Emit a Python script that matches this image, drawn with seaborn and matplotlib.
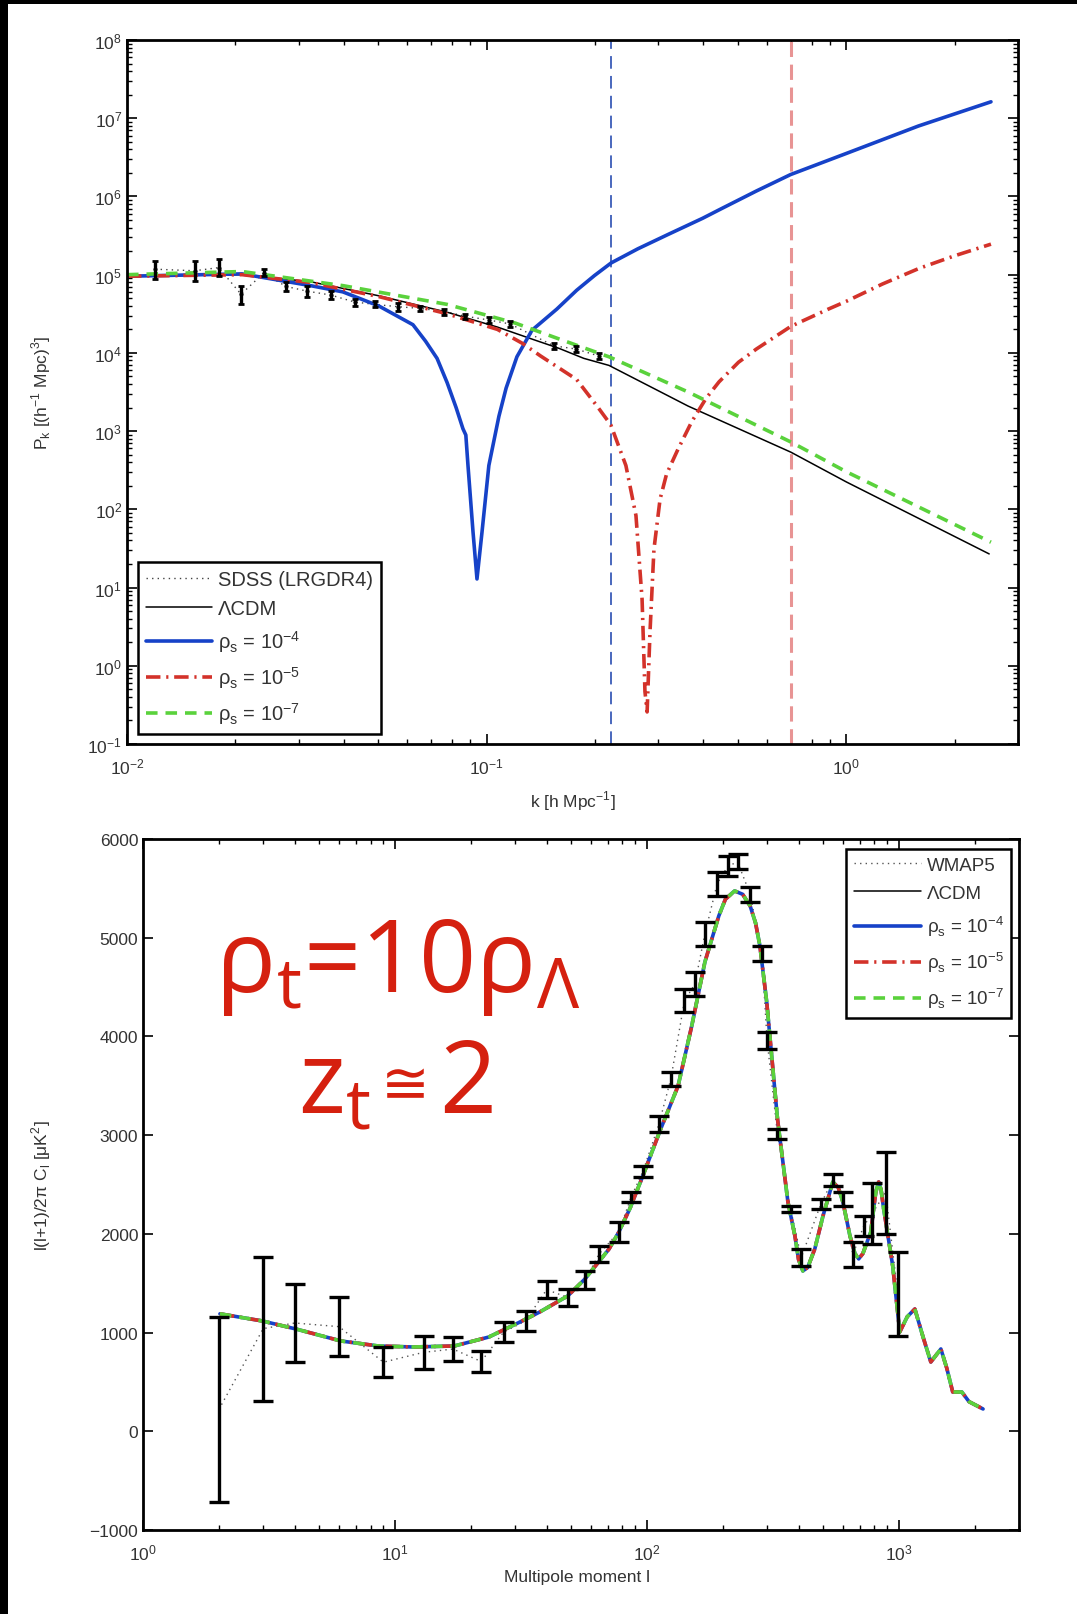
import numpy as np
import matplotlib
matplotlib.use("Agg")
import matplotlib.pyplot as plt
import seaborn as sns
from matplotlib.patches import Rectangle
from matplotlib.ticker import LogLocator, NullFormatter, FixedLocator

logk_sdss = [-1.922, -1.812, -1.745, -1.683, -1.620, -1.558, -1.500, -1.434, -1.367, -1.310,
             -1.247, -1.186, -1.119, -1.060, -0.994, -0.935, -0.813, -0.752, -0.688]
logp_sdss = [5.07, 5.05, 5.09, 4.75, 5.02, 4.85, 4.79, 4.74, 4.65, 4.62,
             4.59, 4.57, 4.53, 4.47, 4.42, 4.37, 4.09, 4.05, 3.96]
logp_sdss_lo = [4.95, 4.92, 4.98, 4.63, 4.98, 4.79, 4.72, 4.69, 4.60, 4.59,
                4.54, 4.54, 4.49, 4.43, 4.38, 4.33, 4.05, 4.01, 3.92]
logp_sdss_hi = [5.18, 5.18, 5.20, 4.86, 5.07, 4.91, 4.86, 4.79, 4.69, 4.66,
                4.64, 4.60, 4.56, 4.50, 4.46, 4.41, 4.13, 4.09, 4.00]

logk_lcdm = [-2.0, -1.68, -1.49, -1.30, -1.11, -0.97, -0.87, -0.80, -0.73, -0.66, -0.44, -0.154, 0.0, 0.397]
logp_lcdm = [4.98, 5.00, 4.91, 4.73, 4.52, 4.33, 4.17, 4.06, 3.93, 3.84, 3.32, 2.73, 2.35, 1.43]

logk_rho4 = [-2.0, -1.68, -1.49, -1.40, -1.30, -1.205, -1.17, -1.138, -1.11, -1.085, -1.066,
             -1.058, -1.052, -1.038, -1.027, -1.013, -0.994, -0.966, -0.946, -0.916, -0.874,
             -0.805, -0.75, -0.70, -0.654, -0.58, -0.493, -0.40, -0.349, -0.25, -0.155, 0.0,
             0.2, 0.402]
logp_rho4 = [4.98, 5.01, 4.86, 4.78, 4.60, 4.36, 4.15, 3.93, 3.62, 3.30, 3.03,
             2.95, 2.56, 1.71, 1.11, 1.71, 2.56, 3.19, 3.55, 3.95, 4.29,
             4.56, 4.80, 4.99, 5.15, 5.33, 5.52, 5.72, 5.84, 6.07, 6.28, 6.55,
             6.90, 7.21]

logk_rho5 = [-2.0, -1.68, -1.49, -1.30, -1.11, -0.97, -0.90, -0.85, -0.75, -0.69, -0.655,
             -0.613, -0.585, -0.568, -0.560, -0.554, -0.546, -0.535, -0.518, -0.50, -0.468,
             -0.43, -0.39, -0.354, -0.30, -0.25, -0.154, -0.05, 0.0, 0.10, 0.202, 0.30, 0.402]
logp_rho5 = [4.98, 5.00, 4.90, 4.72, 4.50, 4.30, 4.12, 3.96, 3.66, 3.30, 3.08,
             2.56, 1.92, 0.85, -0.33, -0.59, 0.43, 1.49, 2.13, 2.45, 2.77,
             3.12, 3.42, 3.63, 3.88, 4.05, 4.34, 4.56, 4.66, 4.88, 5.08, 5.24, 5.39]

logk_rho7 = [-2.0, -1.68, -1.40, -1.11, -0.92, -0.80, -0.66, -0.44, -0.154, 0.0, 0.402]
logp_rho7 = [5.00, 5.04, 4.86, 4.62, 4.38, 4.18, 3.95, 3.50, 2.86, 2.48, 1.58]

k_cuts = [0.222, 0.70]

# ---------------- bottom panel : CMB spectrum ----------------
l_model = [2.02, 2.97, 4.05, 6.1, 8.6, 11.8, 17.2, 23.6, 32, 37.6, 48.5, 56.8, 70.8, 77.4, 85.5,
           96.4, 113.5, 133, 150.7, 170, 193, 205, 223, 240, 257, 270, 281, 299, 330, 363, 387,
           400, 416, 435, 464, 500, 547, 575, 600, 640, 670, 693, 720, 774, 810, 832, 850, 871,
           946, 1009, 1080, 1158, 1250, 1340, 1469, 1550, 1637, 1779, 1900, 2160]
cl_model = [1190, 1118, 1036, 915, 864, 854, 864, 955, 1118, 1209, 1371, 1543, 1847, 2019, 2252,
            2587, 3063, 3498, 4106, 4755, 5221, 5390, 5474, 5440, 5322, 5150, 4917, 4350, 3164, 2323, 1979,
            1740, 1624, 1660, 1847, 2180, 2526, 2470, 2323, 1979, 1800, 1746, 1800, 2019, 2420, 2526, 2450, 2252,
            1675, 1006, 1160, 1239, 950, 702, 834, 640, 398, 398, 300, 226]

l_wmap = [2, 3, 4, 6, 9, 13, 17, 22, 27, 33, 40, 48.5, 57, 64.6, 77.4, 86.5, 96.4, 111.6, 124.5,
          141, 155, 170, 190, 209, 229, 257, 286, 300, 330, 372, 410, 490, 548, 600, 657, 726,
          781, 887, 990]
cl_wmap = [220, 1040, 1097, 1060, 700, 800, 833, 707, 1005, 1118, 1435, 1356, 1533, 1796, 2020,
           2370, 2630, 3110, 3570, 4360, 4530, 5040, 5545, 5720, 5770, 5440, 4840, 3960, 3010,
           2250, 1760, 2300, 2550, 2350, 1790, 2080, 2200, 2420, 1400]
cl_wmap_lo = [-716, 307, 702, 763, 550, 631, 712, 600, 905, 1016, 1350, 1270, 1442, 1715, 1918,
              2323, 2577, 3032, 3498, 4248, 4410, 4917, 5424, 5626, 5697, 5363, 4765, 3873, 2962,
              2222, 1675, 2252, 2485, 2283, 1665, 1979, 1900, 2000, 966]
cl_wmap_hi = [1158, 1766, 1492, 1360, 854, 966, 955, 814, 1107, 1219, 1523, 1442, 1624, 1877, 2120,
              2425, 2688, 3195, 3640, 4481, 4653, 5160, 5667, 5829, 5849, 5515, 4917, 4045, 3063,
              2283, 1847, 2354, 2607, 2425, 1918, 2182, 2520, 2830, 1816]

sns.set_style("ticks")
plt.rcParams["font.family"] = ["Liberation Sans", "DejaVu Sans"]

BLUE = "#1642c8"
RED = "#d3322a"
GREEN = "#5ad23c"
TXT = "#333333"

fig = plt.figure(figsize=(10.77, 16.15), dpi=100, facecolor="black")
fig.patches.append(Rectangle((8 / 1077, 0), 1, 1 - 5 / 1615, transform=fig.transFigure,
                             facecolor="white", edgecolor="none", zorder=-10))

ax1 = fig.add_axes([127 / 1077, 1 - 745 / 1615, 891 / 1077, 704 / 1615])
ax2 = fig.add_axes([143 / 1077, 1 - 1531 / 1615, 876 / 1077, 691 / 1615])


def p10(a):
    return 10 ** np.asarray(a, dtype=float)


lab4 = "ρ$_\\mathregular{s}$ = 10$^\\mathregular{-4}$"
lab5 = "ρ$_\\mathregular{s}$ = 10$^\\mathregular{-5}$"
lab7 = "ρ$_\\mathregular{s}$ = 10$^\\mathregular{-7}$"
dashdot = (0, (4, 1.6, 0.6, 1.6))
dashed = (0, (3.2, 2.2))

# ---- top ----
ax1.set_xscale("log")
ax1.set_yscale("log")
ksd, psd = p10(logk_sdss), p10(logp_sdss)
sns.lineplot(x=ksd, y=psd, ax=ax1, color="#444444", lw=1.0, linestyle=(0, (1, 3)),
             estimator=None, sort=False, label="SDSS (LRGDR4)")
sns.lineplot(x=p10(logk_lcdm), y=p10(logp_lcdm), ax=ax1, color="black", lw=1.1,
             estimator=None, sort=False, label="ΛCDM")
sns.lineplot(x=p10(logk_rho4), y=p10(logp_rho4), ax=ax1, color=BLUE, lw=2.6,
             estimator=None, sort=False, label=lab4)
sns.lineplot(x=p10(logk_rho5), y=p10(logp_rho5), ax=ax1, color=RED, lw=2.6, linestyle=dashdot,
             estimator=None, sort=False, label=lab5)
sns.lineplot(x=p10(logk_rho7), y=p10(logp_rho7), ax=ax1, color=GREEN, lw=2.6, linestyle=dashed,
             estimator=None, sort=False, label=lab7)
ax1.errorbar(ksd, psd, yerr=[psd - p10(logp_sdss_lo), p10(logp_sdss_hi) - psd], fmt=".",
             color="black", ms=4, elinewidth=2.4, capsize=2.5, capthick=2, zorder=5)
ax1.axvline(k_cuts[0], color="#3a5cb8", lw=1.3, linestyle=(0, (7, 4)), zorder=1)
ax1.axvline(k_cuts[1], color="#e89494", lw=2.2, linestyle=(0, (5, 2.5)), zorder=1)

ax1.set_xlim(0.01, 3)
ax1.set_ylim(1e-1, 1e8)
ax1.yaxis.set_major_locator(FixedLocator(p10(np.arange(-1, 9))))
ax1.yaxis.set_minor_locator(LogLocator(base=10, subs=np.arange(2, 10), numticks=40))
ax1.yaxis.set_minor_formatter(NullFormatter())
ax1.xaxis.set_minor_locator(LogLocator(base=10, subs=np.arange(2, 10), numticks=40))
ax1.xaxis.set_minor_formatter(NullFormatter())
ax1.set_xlabel("k [h Mpc$^\\mathregular{-1}$]", fontsize=12.5, color=TXT)
ax1.set_ylabel("P$_\\mathregular{k}$ [(h$^\\mathregular{-1}$ Mpc)$^\\mathregular{3}$]", fontsize=12.5, color=TXT)
ax1.xaxis.set_label_coords(0.50, -0.063)
ax1.yaxis.set_label_coords(-0.083, 0.5)
leg1 = ax1.legend(loc="lower left", bbox_to_anchor=(0.012, 0.014), borderaxespad=0,
                  fontsize=14.5, handlelength=3.3, handletextpad=0.3, labelspacing=0.5,
                  borderpad=0.4, fancybox=False, framealpha=1)

# ---- bottom ----
ax2.set_xscale("log")
sns.lineplot(x=l_wmap, y=cl_wmap, ax=ax2, color="#555555", lw=1.0, linestyle=(0, (1, 3)),
             estimator=None, sort=False, label="WMAP5")
sns.lineplot(x=l_model, y=cl_model, ax=ax2, color="black", lw=1.1,
             estimator=None, sort=False, label="ΛCDM")
sns.lineplot(x=l_model, y=cl_model, ax=ax2, color=BLUE, lw=2.6,
             estimator=None, sort=False, label=lab4)
sns.lineplot(x=l_model, y=cl_model, ax=ax2, color=RED, lw=2.6, linestyle=dashdot,
             estimator=None, sort=False, label=lab5)
sns.lineplot(x=l_model, y=cl_model, ax=ax2, color=GREEN, lw=2.6, linestyle=dashed,
             estimator=None, sort=False, label=lab7)
cw = np.asarray(cl_wmap, dtype=float)
ax2.errorbar(l_wmap, cw, yerr=[cw - np.asarray(cl_wmap_lo), np.asarray(cl_wmap_hi) - cw],
             fmt="none", ecolor="black", elinewidth=2.4, capsize=7, capthick=2.4, zorder=5)
ax2.set_xlim(1, 3000)
ax2.set_ylim(-1000, 6000)
ax2.set_yticks(np.arange(-1000, 6001, 1000))
ax2.xaxis.set_minor_locator(LogLocator(base=10, subs=np.arange(2, 10), numticks=40))
ax2.xaxis.set_minor_formatter(NullFormatter())
ax2.set_xlabel("Multipole moment l", fontsize=12.5, color=TXT)
ax2.set_ylabel("l(l+1)/2π C$_\\mathregular{l}$ [μK$^\\mathregular{2}$]", fontsize=12.5, color=TXT)
ax2.xaxis.set_label_coords(0.495, -0.057)
ax2.yaxis.set_label_coords(-0.103, 0.5)
leg2 = ax2.legend(loc="upper right", bbox_to_anchor=(0.991, 0.9855), borderaxespad=0,
                  fontsize=13.5, handlelength=3.6, handletextpad=0.3, labelspacing=0.6,
                  borderpad=0.4, fancybox=False, framealpha=1)

for ax in (ax1, ax2):
    ax.tick_params(which="both", direction="in", top=True, right=True, colors="black",
                   labelcolor=TXT, labelsize=12.5)
    ax.tick_params(which="major", length=7, width=1.2)
    ax.tick_params(which="minor", length=3.5, width=1.0)
    ax.tick_params(axis="x", which="major", pad=9)
    for s in ax.spines.values():
        s.set_linewidth(2.0)
        s.set_color("black")
for leg in (leg1, leg2):
    leg.get_frame().set_edgecolor("black")
    leg.get_frame().set_linewidth(1.8)
    for t in leg.get_texts():
        t.set_color(TXT)

# big red annotation
RED_TXT = "#d5200f"
fam = ["Open Sans", "DejaVu Sans"]
fig.text(215 / 1077, 1 - 992 / 1615, "ρ$_\\mathregular{t}$=10ρ$_\\mathregular{Λ}$", fontsize=72,
         color=RED_TXT, family=fam, ha="left", va="baseline")
fig.text(298 / 1077, 1 - 1113 / 1615, "z$_\\mathregular{t}$", fontsize=72,
         color=RED_TXT, family=fam, ha="left", va="baseline")
fig.text(405 / 1077, 1 - 1088 / 1615, "≅", fontsize=42,
         color=RED_TXT, family=fam, ha="center", va="center")
fig.text(439 / 1077, 1 - 1113 / 1615, "2", fontsize=72,
         color=RED_TXT, family=fam, ha="left", va="baseline")

fig.savefig("out.png", dpi=100, facecolor=fig.get_facecolor())
